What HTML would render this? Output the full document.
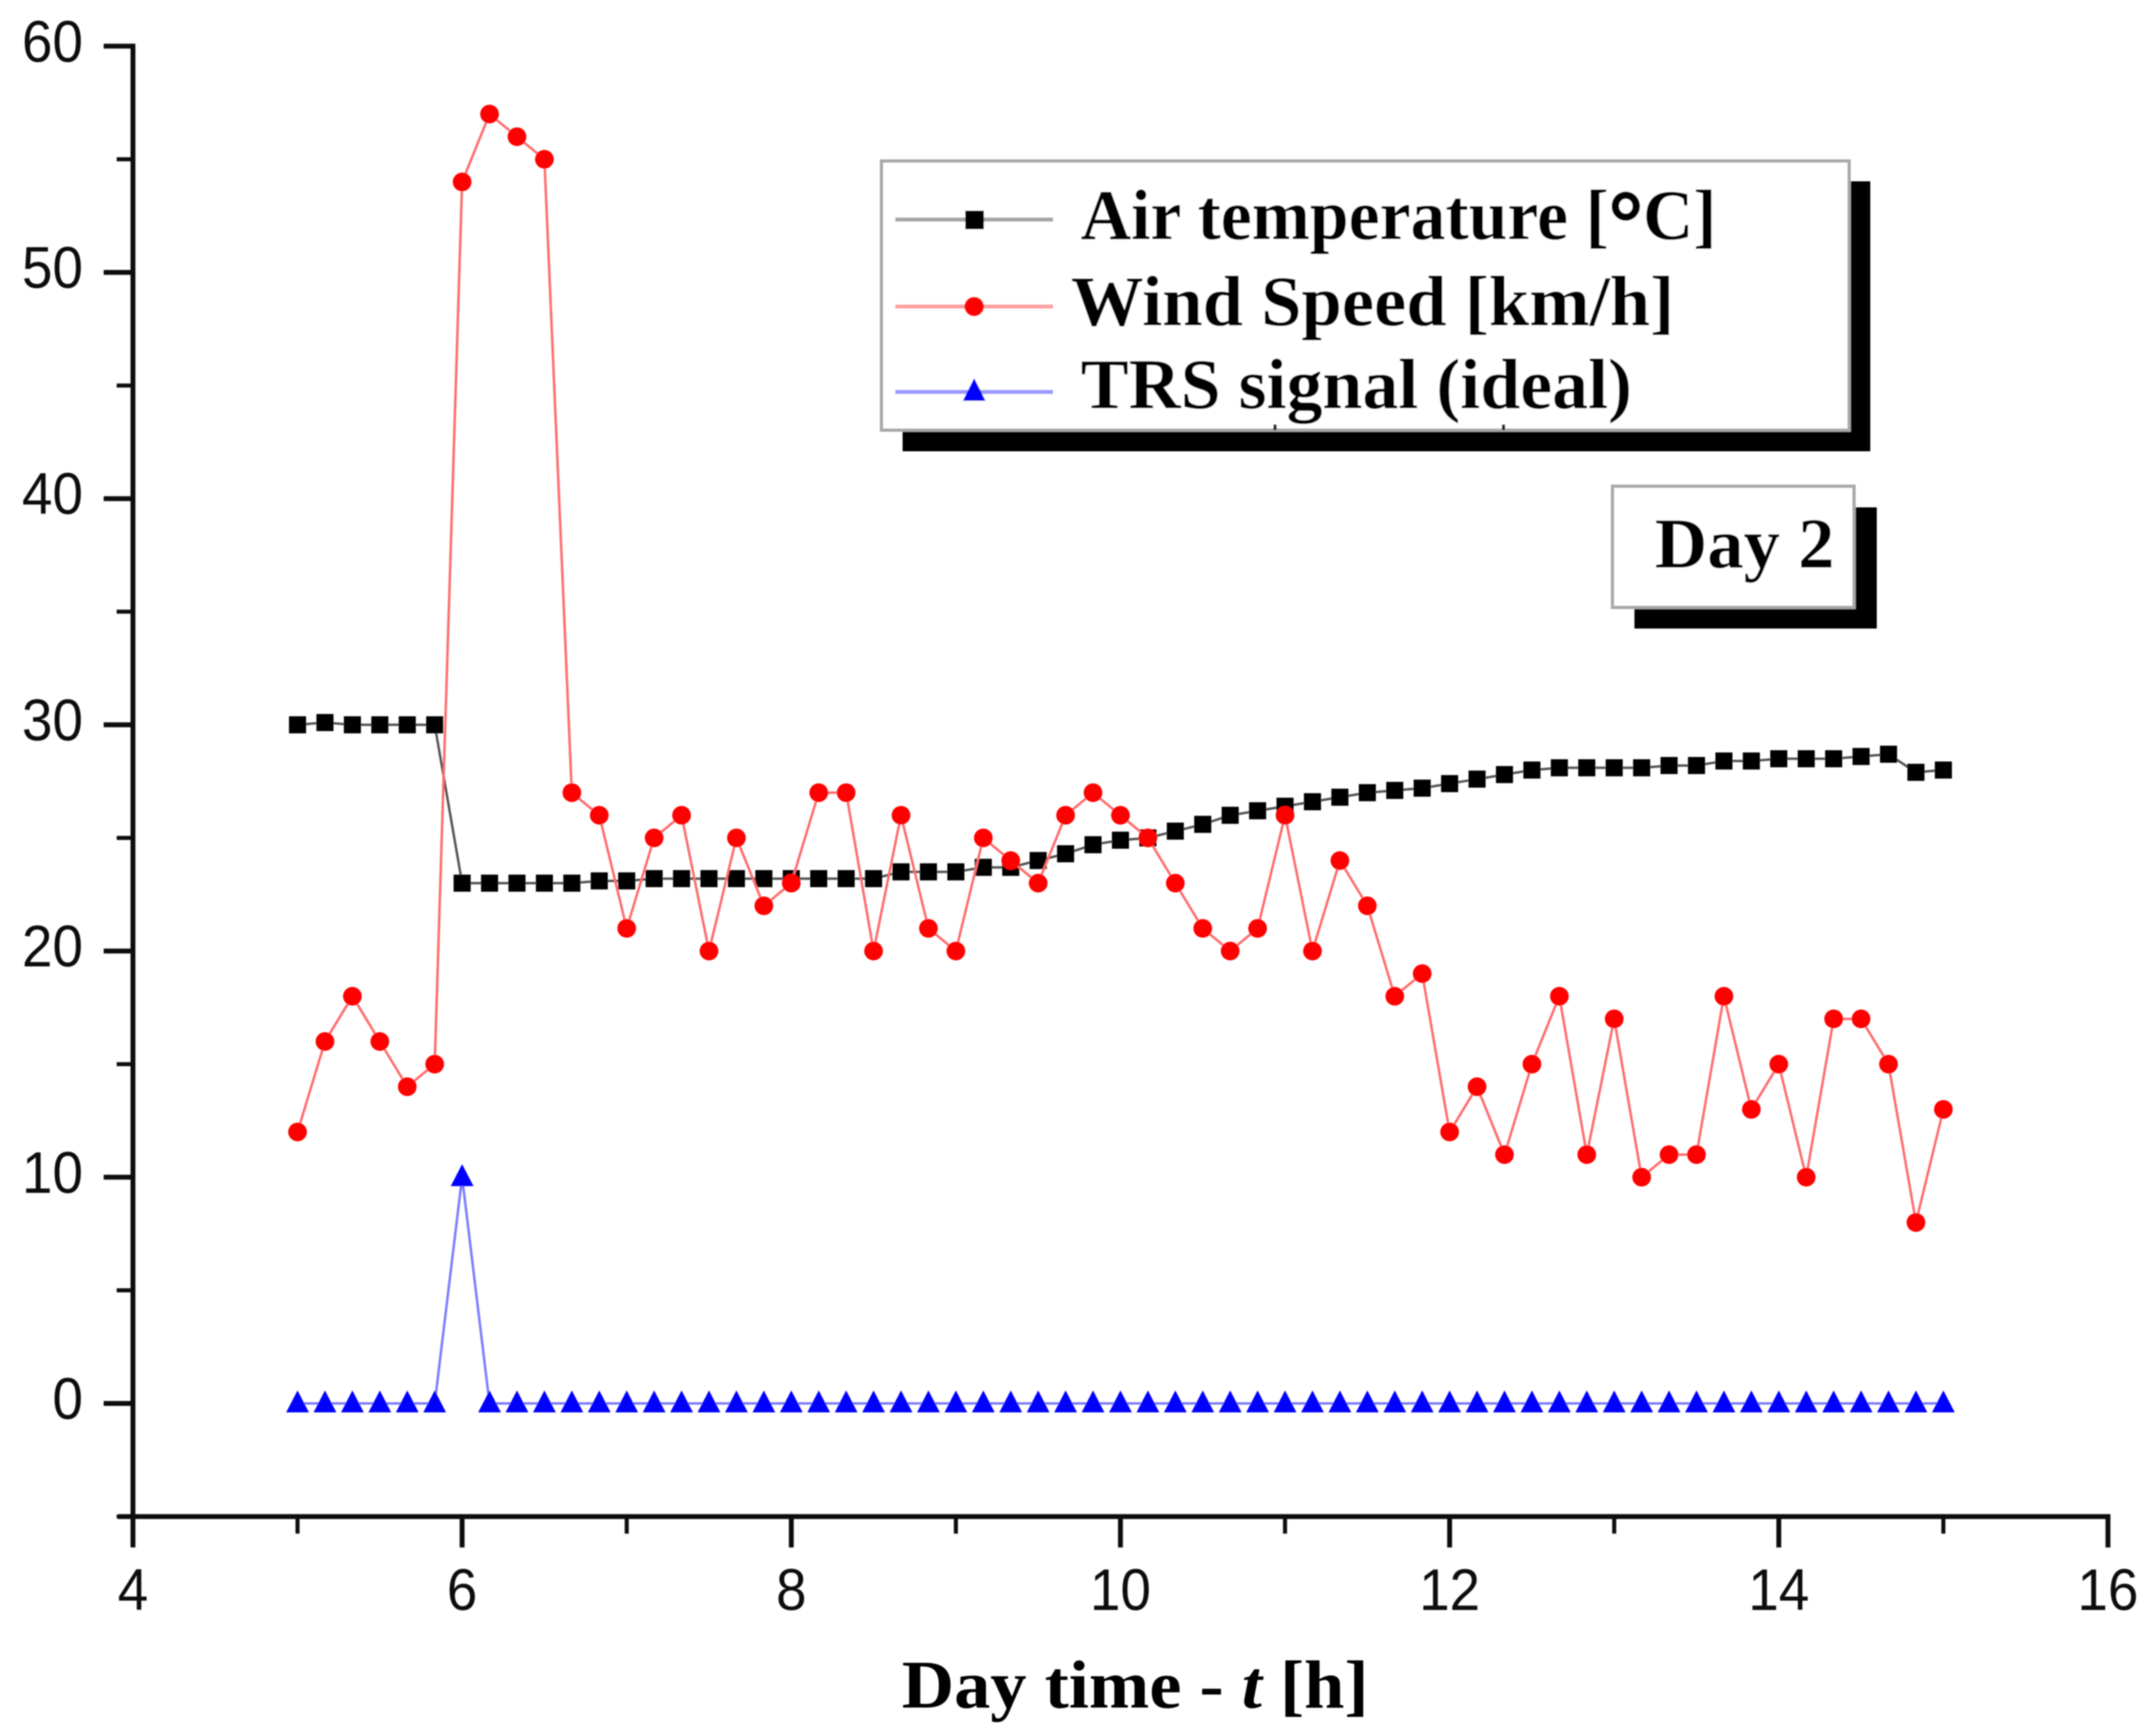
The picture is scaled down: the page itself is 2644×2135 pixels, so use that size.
<!DOCTYPE html>
<html lang="en">
<head>
<meta charset="utf-8">
<title>Day 2 chart</title>
<style>
html,body{margin:0;padding:0;background:#fff;}
svg{display:block;}
.tick-label{font-family:"Liberation Sans",Arial,sans-serif;font-size:72px;fill:#111;}
.serif{font-family:"Liberation Serif","Times New Roman",serif;font-weight:bold;fill:#000;}
</style>
</head>
<body>
<svg id="chart" xmlns="http://www.w3.org/2000/svg" width="2644" height="2135" viewBox="0 0 2644 2135">
  <defs><filter id="soft" x="-5%" y="-5%" width="110%" height="110%"><feGaussianBlur stdDeviation="0.9"/></filter></defs>
  <rect x="0" y="0" width="2644" height="2135" fill="#fff"/>
  <g id="root" filter="url(#soft)">
    <g id="axes"></g>
    <g id="series"></g>
    <g>
      <rect x="1110" y="223" width="1190" height="332" fill="#000"/>
      <rect x="1084" y="198" width="1190" height="331" fill="#fff" stroke="#a8a8a8" stroke-width="4"/>
      <path d="M1568 522v7M1849 522v7" stroke="#222" stroke-width="4" fill="none"/>
      <g>
        <line x1="1101" y1="270" x2="1295" y2="270" stroke="#a6a6a6" stroke-width="5"/>
        <rect x="1187" y="259" width="23" height="23" fill="#000"/>
        <text class="serif" x="1329" y="294" font-size="88" textLength="782" lengthAdjust="spacingAndGlyphs">Air temperature [<tspan font-size="108" dy="15" stroke="#000" stroke-width="3">°</tspan><tspan dy="-15">C]</tspan></text>
      </g>
      <g>
        <line x1="1101" y1="377" x2="1295" y2="377" stroke="#ffa0a0" stroke-width="5"/>
        <circle cx="1198" cy="377" r="12" fill="#f00"/>
        <text class="serif" x="1317" y="400" font-size="88" textLength="742" lengthAdjust="spacingAndGlyphs">Wind Speed [km/h]</text>
      </g>
      <g>
        <line x1="1101" y1="482" x2="1295" y2="482" stroke="#9a9aff" stroke-width="5"/>
        <polygon points="1198,465 1212,493 1184,493" fill="#00f"/>
        <text class="serif" x="1329" y="502" font-size="88" textLength="678" lengthAdjust="spacingAndGlyphs">TRS signal (ideal)</text>
      </g>
    </g>
    <g>
      <rect x="2010" y="624" width="298" height="149" fill="#000"/>
      <rect x="1983" y="598" width="297" height="149" fill="#fff" stroke="#a8a8a8" stroke-width="4"/>
      <text class="serif" x="2035" y="698" font-size="88" textLength="221" lengthAdjust="spacingAndGlyphs">Day 2</text>
    </g>
    <text class="serif" x="1109" y="2100" font-size="84" textLength="574" lengthAdjust="spacingAndGlyphs">Day time - <tspan font-style="italic">t</tspan> [h]</text>
  </g>
</svg>
<script>
// Chart data
var hours = [5,5.1667,5.3333,5.5,5.6667,5.8333,6,6.1667,6.3333,6.5,6.6667,6.8333,7,7.1667,7.3333,7.5,7.6667,7.8333,8,8.1667,8.3333,8.5,8.6667,8.8333,9,9.1667,9.3333,9.5,9.6667,9.8333,10,10.1667,10.3333,10.5,10.6667,10.8333,11,11.1667,11.3333,11.5,11.6667,11.8333,12,12.1667,12.3333,12.5,12.6667,12.8333,13,13.1667,13.3333,13.5,13.6667,13.8333,14,14.1667,14.3333,14.5,14.6667,14.8333,15];
var airTemperature = [30,30.1,30,30,30,30,23,23,23,23,23,23.1,23.1,23.2,23.2,23.2,23.2,23.2,23.2,23.2,23.2,23.2,23.5,23.5,23.5,23.7,23.7,24,24.3,24.7,24.9,25,25.3,25.6,26,26.2,26.4,26.6,26.8,27,27.1,27.2,27.4,27.6,27.8,28,28.1,28.1,28.1,28.1,28.2,28.2,28.4,28.4,28.5,28.5,28.5,28.6,28.7,27.9,28];
var windSpeed = [12,16,18,16,14,15,54,57,56,55,27,26,21,25,26,20,25,22,23,27,27,20,26,21,20,25,24,23,26,27,26,25,23,21,20,21,26,20,24,22,18,19,12,14,11,15,18,11,17,10,11,11,18,13,15,10,17,17,15,8,13];
var trsSignal = [0,0,0,0,0,0,10,0,0,0,0,0,0,0,0,0,0,0,0,0,0,0,0,0,0,0,0,0,0,0,0,0,0,0,0,0,0,0,0,0,0,0,0,0,0,0,0,0,0,0,0,0,0,0,0,0,0,0,0,0,0];
var xTickLabels = [4,6,8,10,12,14,16];
var xMinorTicks = [5,7,9,11,13,15];
var yTickLabels = [0,10,20,30,40,50,60];
var yMinorTicks = [-5,5,15,25,35,45,55];

var NS = 'http://www.w3.org/2000/svg';
function xScale(v){ return 163.5 + (v - 4) * 202.4; }
function yScale(v){ return 1726 - v * 27.82; }
function make(tag, parent){ var el = document.createElementNS(NS, tag); parent.appendChild(el); return el; }
function setLine(el, x1, y1, x2, y2, w, color){
  el.setAttribute('x1', x1); el.setAttribute('y1', y1);
  el.setAttribute('x2', x2); el.setAttribute('y2', y2);
  el.setAttribute('stroke', color); el.setAttribute('stroke-width', w);
}
function pointsFor(values){
  return values.map(function(v, i){ return xScale(hours[i]).toFixed(1) + ',' + yScale(v).toFixed(1); }).join(' ');
}
function fitLabel(el, v){
  el.setAttribute('textLength', String(v).length * 37.5);
  el.setAttribute('lengthAdjust', 'spacingAndGlyphs');
}

var axes = document.getElementById('axes');
var series = document.getElementById('series');

// Axes
var yAxis = make('line', axes);


setLine(yAxis, xScale(4), yScale(60) - 3, xScale(4), yScale(-5), 6, '#111');

var xAxis = make('line', axes);


setLine(xAxis, xScale(4) - 18, yScale(-5), xScale(16) + 3, yScale(-5), 6, '#111');

yTickLabels.forEach(function(v){
  var t = make('line', axes);
  
  
  setLine(t, xScale(4) - 36, yScale(v), xScale(4), yScale(v), 6, '#111');
  var l = make('text', axes);
  
  
  l.setAttribute('class', 'tick-label');
  l.setAttribute('x', 102);
  l.setAttribute('y', yScale(v) + 19);
  l.setAttribute('text-anchor', 'end');
  fitLabel(l, v);
  l.textContent = String(v);
});
yMinorTicks.forEach(function(v){
  var t = make('line', axes);
  
  
  setLine(t, xScale(4) - 20, yScale(v), xScale(4), yScale(v), 5, '#111');
});
xTickLabels.forEach(function(v){
  var t = make('line', axes);
  
  
  setLine(t, xScale(v), yScale(-5), xScale(v), yScale(-5) + 38, 6, '#111');
  var l = make('text', axes);
  
  
  l.setAttribute('class', 'tick-label');
  l.setAttribute('x', xScale(v));
  l.setAttribute('y', 1980);
  l.setAttribute('text-anchor', 'middle');
  fitLabel(l, v);
  l.textContent = String(v);
});
xMinorTicks.forEach(function(v){
  var t = make('line', axes);
  
  
  setLine(t, xScale(v), yScale(-5), xScale(v), yScale(-5) + 21, 5, '#111');
});

// Lines
var airLine = make('polyline', series);


airLine.setAttribute('points', pointsFor(airTemperature));
airLine.setAttribute('fill', 'none');
airLine.setAttribute('stroke', '#555');
airLine.setAttribute('stroke-width', '3');

// Air temperature markers
airTemperature.forEach(function(v, i){
  var m = make('rect', series);
  
  
  m.setAttribute('x', xScale(hours[i]) - 10.5);
  m.setAttribute('y', yScale(v) - 10.5);
  m.setAttribute('width', 21);
  m.setAttribute('height', 21);
  m.setAttribute('fill', '#000');
});

var windLine = make('polyline', series);


windLine.setAttribute('points', pointsFor(windSpeed));
windLine.setAttribute('fill', 'none');
windLine.setAttribute('stroke', '#ff6a6a');
windLine.setAttribute('stroke-width', '3');

windSpeed.forEach(function(v, i){
  var m = make('circle', series);
  
  
  m.setAttribute('cx', xScale(hours[i]));
  m.setAttribute('cy', yScale(v));
  m.setAttribute('r', 11.5);
  m.setAttribute('fill', '#f00');
});

var trsLine = make('polyline', series);


trsLine.setAttribute('points', pointsFor(trsSignal));
trsLine.setAttribute('fill', 'none');
trsLine.setAttribute('stroke', '#7a7aff');
trsLine.setAttribute('stroke-width', '3');

trsSignal.forEach(function(v, i){
  var m = make('polygon', series);
  
  
  var cx = xScale(hours[i]), cy = yScale(v);
  m.setAttribute('points', cx + ',' + (cy - 16) + ' ' + (cx + 14) + ',' + (cy + 11) + ' ' + (cx - 14) + ',' + (cy + 11));
  m.setAttribute('fill', '#00f');
});
</script>
</body>
</html>
